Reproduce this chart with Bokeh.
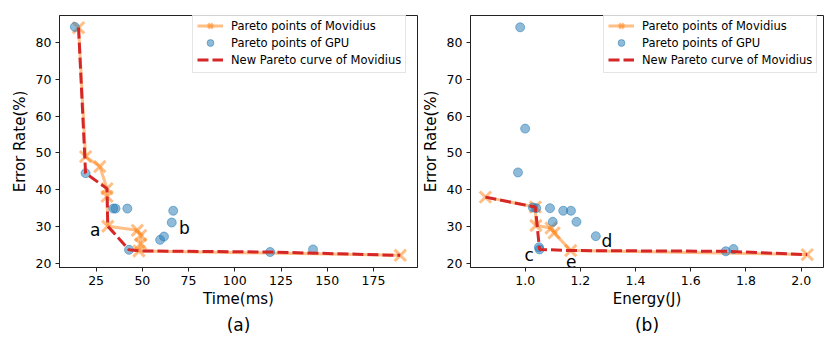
from bokeh.plotting import figure
from bokeh.models import (Range1d, FixedTicker, PrintfTickFormatter, Legend,
                          LegendItem, Title)
from bokeh.layouts import row
from bokeh.embed import file_html
from bokeh.resources import INLINE
from bokeh.core.properties import value

FONT = "DejaVu Sans"
ORANGE = "#ff7f0e"
BLUE = "#1f77b4"
RED = "#d62728"

# ---------------- data: (a) Time ----------------
mov_time = [15.5, 19.3, 27.0, 30.9, 30.9, 31.3, 47.3, 49.1, 49.1, 48.2, 189.5]
mov_err_t = [84.0, 49.0, 46.3, 40.3, 38.2, 30.1, 29.0, 27.6, 25.3, 23.4, 22.2]

gpu_time = [13.5, 19.3, 34.3, 35.5, 41.9, 42.8, 59.6, 61.7, 65.9, 66.7, 119.1, 142.3]
gpu_err_t = [84.2, 44.5, 34.9, 34.9, 34.9, 23.7, 26.4, 27.3, 31.1, 34.3, 23.1, 23.8]

new_time = [15.5, 19.3, 30.9, 31.3, 42.8, 48.2, 119.1, 189.5]
new_err_t = [84.0, 44.5, 40.3, 30.1, 23.7, 23.4, 23.1, 22.2]

labels_t = ["a", "b"]
labels_t_x = [21.7, 69.8]
labels_t_y = [29.1, 29.5]

time_ticks = [25, 50, 75, 100, 125, 150, 175]

# ---------------- data: (b) Energy ----------------
mov_energy = [0.856, 1.037, 1.039, 1.094, 1.105, 1.165, 2.022]
mov_err_e = [38.0, 35.3, 30.3, 29.6, 28.3, 23.5, 22.4]

gpu_energy = [0.982, 1.000, 0.974, 1.028, 1.040, 1.090, 1.100, 1.138, 1.166,
              1.186, 1.256, 1.050, 1.052, 1.727, 1.755]
gpu_err_e = [84.1, 56.6, 44.7, 35.2, 35.0, 35.0, 31.3, 34.3, 34.3,
             31.3, 27.4, 24.4, 23.8, 23.3, 23.9]

new_energy = [0.856, 1.037, 1.052, 1.165, 1.727, 2.022]
new_err_e = [38.0, 35.3, 23.8, 23.5, 23.3, 22.4]

labels_e = ["c", "d", "e"]
labels_e_x = [0.998, 1.2765, 1.148]
labels_e_y = [22.2, 26.2, 20.4]

energy_ticks = [0.8, 1.0, 1.2, 1.4, 1.6, 1.8, 2.0]
err_ticks = [20, 30, 40, 50, 60, 70, 80]


def make_fig(mx, my, gx, gy, nx, ny, lt, lx, ly, xticks, xrange, xlabel,
             sub, width, bl, br, bt, bb, fmt=None):
    p = figure(width=width, height=336, output_backend="svg",
               toolbar_location=None, x_range=Range1d(*xrange),
               y_range=Range1d(18.9, 87.3),
               min_border_left=bl, min_border_right=br,
               min_border_top=bt, min_border_bottom=bb)
    p.xgrid.visible = False
    p.ygrid.visible = False
    p.outline_line_color = "#222222"
    p.outline_line_width = 1
    p.background_fill_color = "white"
    p.border_fill_color = "white"

    l1 = p.line(mx, my, line_color=ORANGE, line_alpha=0.5, line_width=3)
    s1 = p.scatter(mx, my, marker="x", size=16, line_color=ORANGE,
                   line_alpha=0.5, line_width=3)
    s2 = p.scatter(gx, gy, marker="circle", size=9, fill_color=BLUE,
                   fill_alpha=0.5, line_color=BLUE, line_alpha=0.5,
                   line_width=1)
    l3 = p.line(nx, ny, line_color=RED, line_width=3, line_dash="11 4")

    p.text(x=lx, y=ly, text=lt, text_font=value(FONT),
           text_font_size="17px", text_align="left",
           text_baseline="alphabetic", text_color="black")

    for ax in (p.xaxis[0], p.yaxis[0]):
        ax.major_tick_out = 4
        ax.major_tick_in = 0
        ax.minor_tick_line_color = None
        ax.axis_line_color = "#222222"
        ax.major_tick_line_color = "#222222"
        ax.major_label_text_font = FONT
        ax.major_label_text_font_size = "12.5px"
        ax.major_label_text_color = "black"
        ax.axis_label_text_font = FONT
        ax.axis_label_text_font_size = "15px"
        ax.axis_label_text_font_style = "normal"
        ax.axis_label_text_color = "black"
        ax.major_label_standoff = 4
        ax.axis_label_standoff = 4
    p.xaxis[0].axis_label_standoff = 2
    p.xaxis[0].ticker = FixedTicker(ticks=xticks)
    p.yaxis[0].ticker = FixedTicker(ticks=err_ticks)
    if fmt:
        p.xaxis[0].formatter = PrintfTickFormatter(format=fmt)
    p.xaxis[0].axis_label = xlabel
    p.yaxis[0].axis_label = "Error Rate(%)"

    legend = Legend(items=[
        LegendItem(label="Pareto points of Movidius", renderers=[l1, s1]),
        LegendItem(label="Pareto points of GPU", renderers=[s2]),
        LegendItem(label="New Pareto curve of Movidius", renderers=[l3]),
    ], location=(133, 194))
    legend.glyph_width = 26
    legend.glyph_height = 17
    legend.label_height = 17
    legend.spacing = 0
    legend.padding = 4
    legend.margin = 0
    legend.label_standoff = 8
    legend.label_text_font = FONT
    legend.label_text_font_size = "11.5px"
    legend.label_text_color = "black"
    legend.border_line_color = "#cccccc"
    legend.border_line_width = 1
    legend.background_fill_alpha = 0.8
    p.add_layout(legend)

    t = Title(text=sub, align="center", text_font=FONT,
              text_font_size="17px", text_font_style="normal",
              text_color="black", standoff=4)
    p.add_layout(t, "below")
    return p


p1 = make_fig(mov_time, mov_err_t, gpu_time, gpu_err_t, new_time, new_err_t,
              labels_t, labels_t_x, labels_t_y, time_ticks, (5.2, 198.8),
              "Time(ms)", "(a)", 418, 59, 1, 15, 65)
p2 = make_fig(mov_energy, mov_err_e, gpu_energy, gpu_err_e, new_energy,
              new_err_e, labels_e, labels_e_x, labels_e_y, energy_ticks,
              (0.802, 2.081), "Energy(J)", "(b)", 409, 50, 4, 12, 68,
              fmt="%.1f")

layout = row(p1, p2)
open("out.html", "w").write(file_html(layout, INLINE))
